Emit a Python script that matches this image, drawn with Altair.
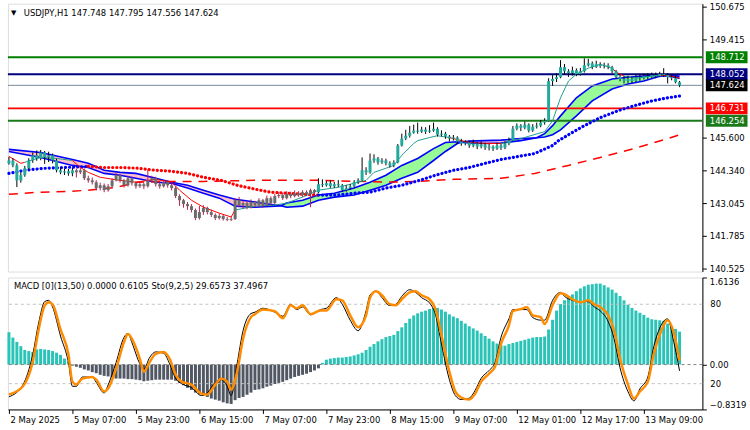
import json
import altair as alt
import pandas as pd

FONT = "DejaVu Sans"
FS = 8.5

# ---------------- texts ----------------
header_text = "USDJPY,H1  147.748 147.795 147.556 147.624"
lower_text = "MACD [0](13,50) 0.0000 0.6105  Sto(9,2,5) 29.6573 37.4967"
time_labels = ["2 May 2025", "5 May 07:00", "5 May 23:00", "6 May 15:00", "7 May 07:00",
               "7 May 23:00", "8 May 15:00", "9 May 07:00", "12 May 01:00", "12 May 17:00",
               "13 May 09:00"]
time_label_step = 16

# ---------------- candles (H1) ----------------
first_open = 144.60
closes = [
    144.71, 144.52, 143.94, 144.14, 144.41, 144.71, 144.91, 144.79, 145.02, 144.83,
    144.91, 144.71, 144.33, 144.25, 144.29, 144.21, 144.33, 144.25, 144.33, 144.02,
    143.94, 143.87, 143.64, 143.75, 143.56, 143.71, 143.94, 144.14, 143.94, 143.75,
    144.02, 143.83, 143.71, 143.79, 143.71, 143.94, 144.02, 143.79, 143.71, 143.87,
    143.75, 143.64, 143.33, 143.17, 143.02, 142.94, 142.79, 142.48, 142.71, 142.87,
    142.71, 142.60, 142.48, 142.56, 142.44, 142.41, 142.44, 143.17, 142.98, 143.06,
    142.90, 143.10, 142.98, 143.17, 142.98, 143.25, 143.06, 143.33, 143.37, 143.25,
    143.41, 143.33, 143.44, 143.37, 143.48, 143.41, 143.56, 143.48, 143.79, 143.75,
    143.83, 143.71, 143.79, 143.75, 143.56, 143.64, 143.71, 143.87, 143.94, 144.33,
    144.25, 144.71, 144.79, 144.64, 144.71, 144.60, 144.52, 144.64, 145.29, 145.56,
    145.67, 145.79, 145.87, 145.83, 145.91, 145.83, 145.87, 145.94, 145.71, 145.75,
    145.64, 145.56, 145.60, 145.44, 145.37, 145.41, 145.29, 145.37, 145.25, 145.33,
    145.21, 145.25, 145.17, 145.29, 145.21, 145.37, 145.48, 145.94, 146.06, 145.98,
    146.10, 145.87, 146.02, 146.06, 146.18, 146.25, 147.79, 147.87, 147.94, 148.33,
    148.17, 148.10, 148.21, 148.06, 148.17, 148.40, 148.48, 148.33, 148.44, 148.37,
    148.40, 148.33, 148.17, 147.94, 147.87, 147.79, 147.87, 147.79, 147.94, 147.90,
    147.98, 147.94, 148.02, 147.98, 148.06, 148.02, 147.94, 147.90, 147.748, 147.624,
]
highs = [
    144.85, 144.80, 144.60, 144.25, 144.50, 144.80, 145.02, 145.10, 145.12, 145.08,
    145.05, 144.98, 144.78, 144.45, 144.40, 144.38, 144.42, 144.40, 144.45, 144.40,
    144.12, 144.05, 143.95, 143.85, 143.82, 143.80, 144.02, 144.25, 144.18, 144.00,
    144.12, 144.08, 143.90, 143.90, 143.85, 144.35, 144.12, 144.08, 143.86, 143.95,
    143.95, 143.82, 143.70, 143.40, 143.22, 143.10, 143.02, 142.85, 142.95, 142.98,
    142.92, 142.80, 142.66, 142.65, 142.60, 142.52, 142.52, 143.25, 143.30, 143.15,
    143.12, 143.20, 143.15, 143.25, 143.22, 143.35, 143.32, 143.42, 143.50, 143.45,
    143.52, 143.50, 143.55, 143.52, 143.56, 143.55, 143.62, 143.60, 144.02, 143.98,
    143.92, 143.95, 143.88, 143.95, 143.80, 143.75, 143.80, 143.95, 144.02, 144.83,
    144.45, 144.98, 144.95, 144.85, 144.80, 144.78, 144.68, 144.72, 145.35, 145.75,
    145.90, 146.05, 146.10, 146.18, 146.02, 146.00, 146.08, 146.18, 146.00, 145.88,
    145.82, 145.70, 145.70, 145.65, 145.55, 145.50, 145.48, 145.52, 145.42, 145.45,
    145.40, 145.35, 145.30, 145.40, 145.35, 145.45, 145.60, 146.05, 146.15, 146.12,
    146.22, 146.15, 146.12, 146.18, 146.28, 146.35, 147.90, 148.02, 148.10, 148.60,
    148.45, 148.25, 148.35, 148.28, 148.30, 148.67, 148.65, 148.55, 148.58, 148.52,
    148.50, 148.48, 148.38, 148.22, 148.05, 147.98, 148.00, 147.95, 148.05, 148.05,
    148.08, 148.10, 148.12, 148.12, 148.15, 148.29, 148.10, 148.05, 148.00, 147.795,
]
lows = [
    144.55, 144.45, 143.68, 143.85, 144.08, 144.35, 144.62, 144.70, 144.72, 144.58,
    144.65, 144.60, 144.25, 144.18, 144.15, 144.12, 144.10, 144.05, 144.18, 143.95,
    143.85, 143.78, 143.55, 143.55, 143.48, 143.50, 143.65, 143.90, 143.85, 143.66,
    143.70, 143.74, 143.62, 143.65, 143.60, 143.66, 143.85, 143.70, 143.62, 143.66,
    143.66, 143.55, 143.25, 142.95, 142.88, 142.80, 142.70, 142.40, 142.42, 142.60,
    142.62, 142.52, 142.40, 142.42, 142.38, 142.36, 142.36, 142.40, 142.90, 142.85,
    142.82, 142.85, 142.90, 142.92, 142.88, 142.95, 142.98, 143.00, 143.25, 143.18,
    143.20, 143.25, 143.28, 143.30, 143.30, 143.33, 142.90, 143.40, 143.45, 143.68,
    143.70, 143.65, 143.65, 143.68, 143.50, 143.50, 143.58, 143.66, 143.80, 143.90,
    144.15, 144.20, 144.62, 144.55, 144.58, 144.52, 144.44, 144.45, 144.60, 145.25,
    145.50, 145.60, 145.75, 145.75, 145.78, 145.74, 145.78, 145.82, 145.64, 145.65,
    145.55, 145.45, 145.48, 145.35, 145.28, 145.30, 145.20, 145.22, 145.15, 145.18,
    145.12, 145.10, 145.08, 145.12, 145.12, 145.15, 145.30, 145.45, 145.88, 145.85,
    145.92, 145.80, 145.82, 145.95, 146.00, 146.10, 146.22, 147.60, 147.75, 147.90,
    148.05, 147.95, 148.00, 147.98, 148.00, 148.12, 148.35, 148.25, 148.30, 148.30,
    148.28, 148.25, 148.10, 147.88, 147.78, 147.70, 147.72, 147.72, 147.75, 147.80,
    147.85, 147.86, 147.90, 147.90, 147.94, 147.95, 147.70, 147.82, 147.70, 147.556,
]
trend_runs = [("up", 17), ("down", 61), ("up", 92)]

# ---------------- moving-average band (fast / slow) ----------------
band_idx = [0, 8, 16, 20, 24, 28, 32, 37, 41, 45, 49, 53, 57, 62, 67, 68.5, 70, 74, 78, 82,
            87, 91, 95, 99, 103, 107, 110, 113, 114, 116, 120, 124, 129, 132, 133, 135, 137,
            139, 143, 147, 152, 156, 160, 164, 165.5, 169]
band_fast = [145.06, 144.83, 144.52, 144.44, 144.21, 144.14, 144.02, 143.87, 143.83, 143.64,
             143.44, 143.25, 142.94, 142.90, 142.94, 142.96, 143.06, 143.17, 143.37, 143.44,
             143.64, 143.87, 144.14, 144.52, 144.79, 145.17, 145.41, 145.44, 145.42, 145.39,
             145.37, 145.39, 145.48, 145.56, 145.59, 145.75, 146.06, 146.44, 147.14, 147.60,
             147.87, 147.94, 147.98, 148.02, 148.00, 147.90]
band_slow = [145.14, 145.02, 144.75, 144.60, 144.33, 144.25, 144.21, 144.02, 143.87, 143.75,
             143.56, 143.37, 143.21, 143.10, 142.98, 142.96, 142.90, 142.94, 143.17, 143.29,
             143.37, 143.56, 143.75, 144.02, 144.25, 144.71, 145.06, 145.37, 145.42, 145.46,
             145.48, 145.50, 145.56, 145.58, 145.59, 145.62, 145.71, 145.90, 146.44, 147.02,
             147.48, 147.68, 147.79, 147.98, 148.00, 147.98]

# thin fast MA, in runs of direction
fast_segs = [
    ("down", [0, 3, 4], [144.87, 144.60, 144.64]),
    ("up", [4, 8, 12, 16], [144.64, 144.83, 144.79, 144.71]),
    ("down", [16, 18, 20, 23, 28, 32, 37, 41, 43, 46, 49, 53, 56, 57],
     [144.71, 144.44, 144.25, 144.06, 143.94, 143.87, 143.98, 143.87, 143.56, 143.17,
      142.90, 142.67, 142.52, 142.79]),
    ("up", [57, 62, 67, 70, 74, 78, 83, 87, 90, 92, 95, 97, 99, 102, 103, 106, 108, 111],
     [142.79, 142.94, 142.98, 143.06, 143.29, 143.56, 143.67, 143.83, 143.94, 144.25,
      144.41, 144.52, 144.91, 145.37, 145.48, 145.60, 145.67, 145.60]),
    ("down", [111, 113, 116, 120, 124], [145.60, 145.52, 145.41, 145.37, 145.37]),
    ("up", [124, 129, 135, 137, 139, 141, 143, 146, 149, 152],
     [145.37, 145.56, 145.83, 146.25, 147.14, 147.79, 148.06, 148.29, 148.44, 148.29]),
    ("down", [152, 153, 155], [148.29, 148.14, 147.98]),
    ("up", [155, 158, 160, 164], [147.98, 147.90, 147.94, 148.02]),
    ("down", [164, 167, 169], [148.02, 147.98, 147.90]),
]

# dotted MA, in runs of direction
dot_segs = [
    ("rise", [0, 4, 9, 14, 20], [144.21, 144.33, 144.41, 144.44, 144.48]),
    ("fall", [20, 24, 28.5, 32.5, 37, 41, 45, 49, 53.5, 57.5, 62, 66, 70, 74, 78],
     [144.48, 144.44, 144.44, 144.41, 144.33, 144.29, 144.21, 144.06, 143.94, 143.75,
      143.60, 143.48, 143.44, 143.40, 143.37]),
    ("rise", [78, 82.5, 87, 91, 95, 99, 103.5, 107.5, 112, 116, 120, 124, 128.5, 132.5, 137,
              138.5, 141, 145, 149, 153.5, 157.5, 162, 166, 169],
     [143.37, 143.37, 143.44, 143.48, 143.64, 143.75, 143.94, 144.14, 144.33, 144.44,
      144.60, 144.75, 144.87, 144.98, 145.29, 145.48, 145.71, 146.06, 146.37, 146.64,
      146.83, 147.02, 147.14, 147.21]),
]

# long-dashed MA
dash_idx = [0, 7.5, 16, 20, 27, 32.5, 41, 49, 62, 78.5, 95, 103.5, 112, 124, 132.5, 141, 149,
            157.5, 166, 169]
dash_val = [143.40, 143.48, 143.52, 143.56, 143.67, 143.87, 143.90, 143.90, 143.94, 143.94,
            143.87, 143.90, 143.98, 144.02, 144.21, 144.52, 144.83, 145.17, 145.56, 145.71]

# horizontal levels and price axis
levels = [148.712, 148.052, 147.624, 146.731, 146.254]
price_ticks = [150.675, 149.415, 145.600, 144.340, 143.045, 141.785, 140.525]

# ---------------- lower window ----------------
macd = [
    0.60, 0.50, 0.42, 0.34, 0.27, 0.25, 0.23, 0.28, 0.29, 0.28,
    0.27, 0.25, 0.22, 0.18, 0.11, 0.06, -0.02, -0.04, -0.06, -0.09,
    -0.11, -0.14, -0.16, -0.19, -0.21, -0.22, -0.24, -0.26, -0.26, -0.26,
    -0.27, -0.27, -0.28, -0.29, -0.31, -0.30, -0.29, -0.28, -0.28, -0.28,
    -0.28, -0.28, -0.30, -0.34, -0.38, -0.43, -0.47, -0.52, -0.55, -0.57,
    -0.60, -0.63, -0.65, -0.67, -0.70, -0.72, -0.73, -0.66, -0.62, -0.60,
    -0.56, -0.52, -0.47, -0.46, -0.44, -0.41, -0.39, -0.36, -0.34, -0.32,
    -0.29, -0.26, -0.23, -0.21, -0.19, -0.17, -0.14, -0.11, -0.07, 0.03,
    0.09, 0.11, 0.12, 0.13, 0.13, 0.14, 0.15, 0.17, 0.19, 0.22,
    0.27, 0.33, 0.38, 0.43, 0.47, 0.51, 0.53, 0.55, 0.62, 0.69,
    0.77, 0.85, 0.91, 0.95, 0.98, 1.00, 1.03, 1.05, 1.05, 1.02,
    0.98, 0.93, 0.89, 0.86, 0.81, 0.76, 0.71, 0.67, 0.63, 0.58,
    0.53, 0.48, 0.43, 0.39, 0.36, 0.35, 0.38, 0.40, 0.42, 0.44,
    0.46, 0.48, 0.50, 0.51, 0.51, 0.52, 0.65, 0.83, 1.00, 1.12,
    1.19, 1.25, 1.30, 1.36, 1.41, 1.45, 1.48, 1.49, 1.50, 1.50,
    1.47, 1.43, 1.39, 1.33, 1.27, 1.19, 1.11, 1.05, 1.00, 0.96,
    0.92, 0.87, 0.84, 0.83, 0.82, 0.81, 0.76, 0.71, 0.66, 0.61,
]
macd_ticks = [1.6136, 0.0, -0.8319]
stoch_levels = [80, 20]
stoch_idx = [0, 3.5, 6, 7.5, 9, 10, 11, 13, 15, 16, 17, 18.5, 21, 22, 24, 25, 27, 29, 30, 31,
             33, 34, 35.5, 37, 39, 40.5, 42, 43.5, 46, 48.5, 50, 52, 53.5, 55, 56, 57.5, 59,
             61, 62, 64, 67, 69, 71, 72.5, 74, 76, 78.5, 80, 82.5, 84, 86, 88, 90, 91, 92.5,
             94, 96, 97.5, 99, 101, 102.5, 104, 106, 107.5, 109, 111, 112.5, 114, 116, 117.5,
             119, 121, 122.5, 124, 126, 127, 129, 130.5, 132, 134, 135, 137, 139, 140, 142,
             144, 146, 147.5, 149, 151, 152.5, 154, 156, 157.5, 159, 161, 162.5, 164, 166,
             167.5, 169]
stoch_signal = [11.8, 17.8, 36.5, 61, 79, 81.5, 80, 61, 42, 21.5,
                19.3, 23.8, 25, 23, 14, 16.3, 31.3, 51.5, 57.5, 53.8,
                38.8, 29, 36.5, 42.5, 44, 38.8, 26.8, 21.5, 19.3, 12.5,
                11.8, 19.3, 23.8, 21.5, 15.5, 29, 53.8, 70.3, 72.5, 76,
                74.8, 69.5, 79.3, 77, 79.3, 72.5, 75.3, 75.3, 83.8, 83,
                71.7, 62.6, 71.7, 85, 89.8, 86.8, 80, 79.3, 83.8, 89,
                89.8, 86.8, 83.8, 76.3, 56.8, 29, 14, 9.5, 8, 12.5,
                21.5, 27.5, 32.8, 50, 64, 74.8, 76.3, 77.8, 71.7, 70.3,
                65, 79.3, 88.3, 87.6, 83.8, 81.5, 83, 80, 77.8, 71.7,
                60.3, 38.8, 19.3, 8.8, 14, 21.5, 42.5, 56.8, 68, 59,
                37.5]
stoch_main = [10, 19, 42, 66, 82, 83, 78, 56, 36, 18,
              18, 25, 25, 21, 13, 19, 36, 55, 58, 51,
              35, 31, 40, 44, 43, 35, 24, 20, 17, 11,
              13, 21, 23, 18, 11, 35, 60, 73, 74, 77,
              74, 71, 80, 76, 78, 72, 76, 77, 85, 80,
              68, 60, 75, 87, 90, 85, 79, 80, 86, 91,
              89, 85, 81, 72, 50, 23, 11, 8, 9, 15,
              24, 30, 36, 55, 69, 76, 76, 76, 70, 68,
              68, 83, 89, 86, 83, 82, 82, 78, 75, 67,
              54, 32, 14, 7, 16, 25, 48, 62, 69, 52,
              29.7]

# ---------------- styles (kept apart from the data) ----------------
level_line_colors = ["#008000", "#000080", "#778899", "#ff0000", "#1a7a1a"]
level_box_colors = ["#008000", "#000080", "#000000", "#ff0000", "#1a7a1a"]
level_widths = [2, 2, 1, 2, 2]
TEAL_BODY = "#22a99c"
GRAY_BODY = "#6b6b6b"
WICK_UP = "#000000"
WICK_DOWN = "#b71c4b"
HIST_POS = "#2ac3b7"
HIST_NEG = "#515864"

# ---------------- frames ----------------
n = len(closes)
opens = [first_open] + closes[:-1]
trend = [k for k, m in trend_runs for _ in range(m)]
candles = pd.DataFrame(dict(i=list(range(n)), o=opens, h=highs, l=lows, c=closes, trend=trend))

segs = [[]]
for i, f, s in zip(band_idx, band_fast, band_slow):
    segs[-1].append((i, f, s))
    if f == s:
        segs.append([(i, f, s)])
band_rows = []
for k, seg in enumerate(segs):
    diff = [f - s for (_, f, s) in seg if f != s]
    if not diff:
        continue
    kind = "up" if diff[0] > 0 else "down"
    for (i, f, s) in seg:
        band_rows.append(dict(i=i, f=f, s=s, seg=k, kind=kind))
band_df = pd.DataFrame(band_rows)
band_line_df = pd.DataFrame(dict(i=band_idx, f=band_fast, s=band_slow))

fast_df = pd.DataFrame([dict(i=i, v=v, seg=k, kind=kind)
                        for k, (kind, ii, vv) in enumerate(fast_segs) for i, v in zip(ii, vv)])
dot_df = pd.DataFrame([dict(i=i, v=v, seg=k, kind=kind)
                       for k, (kind, ii, vv) in enumerate(dot_segs) for i, v in zip(ii, vv)])
dash_df = pd.DataFrame(dict(i=dash_idx, v=dash_val))
lev_df = pd.DataFrame(dict(p=levels, lc=level_line_colors, bc=level_box_colors, w=level_widths))
macd_df = pd.DataFrame(dict(i=list(range(len(macd))), v=macd))
stoch_df = pd.DataFrame(dict(i=stoch_idx, m=stoch_main, s=stoch_signal))
slev_df = pd.DataFrame(dict(s=stoch_levels))

# ---------------- scales / axes ----------------
xs = alt.Scale(domain=[-0.25, 174.75], nice=False, zero=False, padding=0)
ys = alt.Scale(domain=[140.405, 150.79], nice=False, zero=False, padding=0)
ms = alt.Scale(domain=[-0.8319, 1.6136], nice=False, zero=False, padding=0)
ss = alt.Scale(domain=[0.5, 100.25], nice=False, zero=False, padding=0)

price_axis = alt.Axis(orient="right", values=price_ticks, format=".3f", grid=False, title=None,
                      tickSize=4, labelPadding=3, labelFont=FONT, labelFontSize=FS,
                      labelColor="black", tickColor="black", domainColor="black",
                      labelOverlap=False)
macd_axis = alt.Axis(orient="right", values=macd_ticks, grid=False, title=None, tickSize=4,
                     labelPadding=3, labelFont=FONT, labelFontSize=FS, labelColor="black",
                     tickColor="black", domainColor="black", labelFlush=True,
                     labelOverlap=False,
                     labelExpr="datum.value == 0 ? '0.00' : format(datum.value, '.4f')")
x_axis = alt.Axis(values=[k * time_label_step for k in range(len(time_labels))],
                  labelExpr=f"{json.dumps(time_labels)}[round(datum.value / {time_label_step})]",
                  labelAlign="left", labelOffset=1, labelFlush=False, labelOverlap=False,
                  grid=False, title=None, tickSize=4, labelPadding=2, labelFont=FONT,
                  labelFontSize=FS, labelColor="black", tickColor="black", domainColor="black")

XP = alt.X("i:Q", scale=xs, axis=None)          # price window: no x axis
XL = alt.X("i:Q", scale=xs, axis=x_axis)        # lower window: time axis


def YP(field):
    return alt.Y(field, scale=ys, axis=price_axis)


# ---------------- price window ----------------
band_area = alt.Chart(band_df).mark_area(opacity=1).encode(
    x=XP, y=YP("f:Q"), y2="s:Q", detail="seg:N",
    color=alt.condition("datum.kind == 'up'", alt.value("#98fb98"), alt.value("#ffc0cb")))
band_fast_line = alt.Chart(band_line_df).mark_line(color="#0000ff", strokeWidth=1.6).encode(
    x=XP, y=YP("f:Q"))
band_slow_line = alt.Chart(band_line_df).mark_line(color="#0000ff", strokeWidth=1.6).encode(
    x=XP, y=YP("s:Q"))
level_rules = alt.Chart(lev_df).mark_rule().encode(
    y=YP("p:Q"),
    color=alt.Color("lc:N", scale=None),
    strokeWidth=alt.StrokeWidth("w:Q", scale=None))
dash_line = alt.Chart(dash_df).mark_line(color="#ff0000", strokeWidth=1.5,
                                         strokeDash=[9, 7]).encode(x=XP, y=YP("v:Q"))
dot_line = alt.Chart(dot_df).mark_line(strokeWidth=3.2, strokeDash=[0.1, 4],
                                       strokeCap="round").encode(
    x=XP, y=YP("v:Q"), detail="seg:N",
    color=alt.condition("datum.kind == 'rise'", alt.value("#0000ff"), alt.value("#ff0000")))
fast_line = alt.Chart(fast_df).mark_line(strokeWidth=1).encode(
    x=XP, y=YP("v:Q"), detail="seg:N",
    color=alt.condition("datum.kind == 'up'", alt.value("#1e9e8e"), alt.value("#ff0000")))
wicks = alt.Chart(candles).mark_rule(strokeWidth=1).encode(
    x=XP, y=YP("l:Q"), y2="h:Q",
    color=alt.condition("datum.trend == 'up'", alt.value(WICK_UP), alt.value(WICK_DOWN)))
bodies = alt.Chart(candles).mark_bar(size=3).encode(
    x=XP, y=YP("o:Q"), y2="c:Q",
    color=alt.condition("datum.trend == 'up'", alt.value(TEAL_BODY), alt.value(GRAY_BODY)))
boxes = alt.Chart(lev_df).mark_tick(orient="horizontal", size=42, thickness=12,
                                    opacity=1).encode(
    x=alt.value(724.5), y=YP("p:Q"), color=alt.Color("bc:N", scale=None))
box_text = alt.Chart(lev_df).mark_text(align="left", baseline="middle", color="white",
                                       font=FONT, fontSize=FS).encode(
    x=alt.value(707.5), y=YP("p:Q"), text=alt.Text("p:Q", format=".3f"))
tri = alt.Chart(pd.DataFrame({"t": ["▼"]})).mark_text(
    align="left", baseline="middle", font=FONT, fontSize=7, color="black").encode(
    x=alt.value(3), y=alt.value(9), text="t:N")
head = alt.Chart(pd.DataFrame({"t": [header_text]})).mark_text(
    align="left", baseline="middle", font=FONT, fontSize=FS, color="black").encode(
    x=alt.value(16), y=alt.value(9), text="t:N")

price = alt.layer(
    band_area, band_fast_line, band_slow_line, level_rules, dash_line, dot_line,
    fast_line, wicks, bodies, boxes, box_text, tri, head
).properties(width=700, height=270)

# ---------------- lower window ----------------
hist = alt.Chart(macd_df).mark_bar(size=3).encode(
    x=XL, y=alt.Y("v:Q", scale=ms, axis=macd_axis), y2=alt.datum(0),
    color=alt.condition("datum.v >= 0", alt.value(HIST_POS), alt.value(HIST_NEG)))
zero_rule = alt.Chart(pd.DataFrame({"v": [0.0]})).mark_rule(
    color="#808080", strokeDash=[3, 3]).encode(y=alt.Y("v:Q", scale=ms, axis=None))
slev_rule = alt.Chart(slev_df).mark_rule(color="#c0c0c0", strokeDash=[3, 3]).encode(
    y=alt.Y("s:Q", scale=ss, axis=None))
slev_text = alt.Chart(slev_df).mark_text(align="left", baseline="middle", font=FONT,
                                         fontSize=FS, color="black").encode(
    x=alt.value(708), y=alt.Y("s:Q", scale=ss, axis=None), text="s:Q")
main_line = alt.Chart(stoch_df).mark_line(color="black", strokeWidth=1,
                                          interpolate="monotone").encode(
    x=XL, y=alt.Y("m:Q", scale=ss, axis=None))
sig_line = alt.Chart(stoch_df).mark_line(color="#ff8c00", strokeWidth=2.5,
                                         interpolate="monotone").encode(
    x=XL, y=alt.Y("s:Q", scale=ss, axis=None))
lower_head = alt.Chart(pd.DataFrame({"t": [lower_text]})).mark_text(
    align="left", baseline="middle", font=FONT, fontSize=FS, color="black").encode(
    x=alt.value(6), y=alt.value(9), text="t:N")

lower = alt.layer(
    hist, zero_rule, slev_rule, main_line, sig_line, slev_text, lower_head
).resolve_scale(y="independent").properties(width=700, height=133)

chart = alt.vconcat(price, lower, spacing=3).properties(
    padding={"left": 2, "top": 0, "right": 2, "bottom": 2}, background="white"
).configure_view(stroke="black", strokeWidth=1).configure(font=FONT)

chart.save("out.html", embed_options={"renderer": "svg", "actions": False})
